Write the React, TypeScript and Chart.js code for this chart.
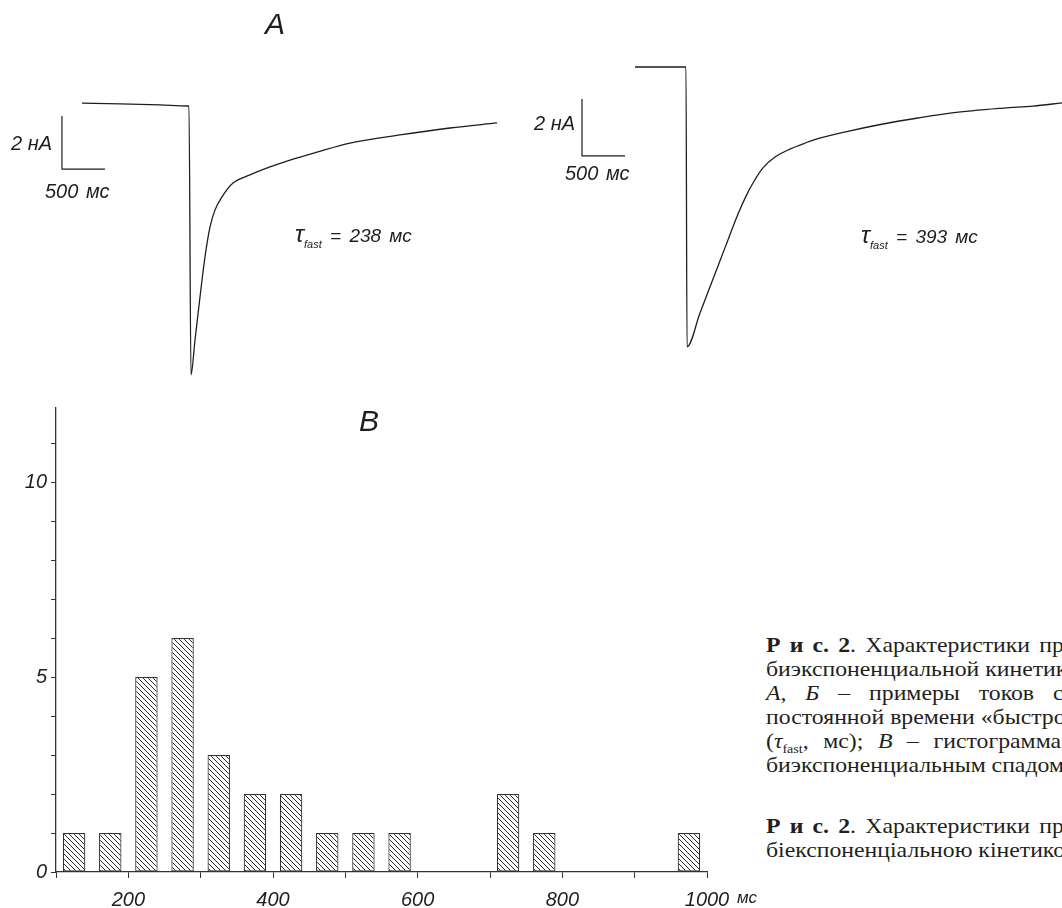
import React, { useEffect, useRef } from "react";
import { Chart, registerables } from "chart.js";

Chart.register(...registerables);

// ---------- DATA ----------
// Trace A (τfast = 238 мс): time, ms / current, nA
const traceATimeMs = [0, 442, 907, 1233, 1244, 1267, 1314, 1372, 1430, 1488, 1547, 1628, 1756, 1953, 2186, 2419, 2733, 3116, 3698, 4279, 4826];
const traceACurrentNa = [0.11, 0.08, 0.04, 0, 0, -10.15, -8.83, -7.21, -5.7, -4.57, -3.92, -3.43, -2.91, -2.6, -2.3, -2.04, -1.74, -1.4, -1.09, -0.83, -0.64];

// Trace Б (τfast = 393 мс)
const traceBTimeMs = [0, 593, 605, 756, 907, 1058, 1198, 1291, 1372, 1488, 1628, 1802, 1919, 2081, 2488, 2884, 3291, 3686, 4291, 4628, 4965];
const traceBCurrentNa = [0, 0, -9.82, -8.63, -7.44, -6.25, -5.16, -4.53, -4.07, -3.54, -3.16, -2.88, -2.74, -2.56, -2.25, -2.0, -1.79, -1.61, -1.44, -1.37, -1.26];

// Histogram В: bin centres (ms) and counts
const binCentersMs = [125, 175, 225, 275, 325, 375, 425, 475, 525, 575, 625, 675, 725, 775, 825, 875, 925, 975];
const cellCounts = [1, 1, 5, 6, 3, 2, 2, 1, 1, 1, 0, 0, 2, 1, 0, 0, 0, 1];
const xLabelValues = [200, 400, 600, 800, 1000];
const yLabelValues = [0, 5, 10];

// Scale bars
const SCALE_BAR_NA = 2;
const SCALE_BAR_MS = 500;

const captionLines = [
  "Характеристики процессов с",
  "биэкспоненциальной кинетикой инактивации.",
  "примеры токов с различной",
  "постоянной времени «быстрого» спада",
  "гистограмма распределения",
  "биэкспоненциальным спадом.",
  "Характеристики процесів з",
  "біекспоненціальною кінетикою.",
];

// ---------- STYLE ----------
const SANS = "'Liberation Sans', Arial, sans-serif";
const SERIF = "'Liberation Serif', 'Times New Roman', serif";
const INK = "#1e1e1e";
const AXIS = "#333";

function scaleBarPlugin(anchorT: number, anchorI: number) {
  return {
    id: "scaleBar",
    afterDatasetsDraw(chart: any) {
      const { ctx, scales } = chart;
      const x0 = scales.x.getPixelForValue(anchorT);
      const x1 = scales.x.getPixelForValue(anchorT + SCALE_BAR_MS);
      const y0 = scales.y.getPixelForValue(anchorI);
      const y1 = scales.y.getPixelForValue(anchorI - SCALE_BAR_NA);
      ctx.save();
      ctx.strokeStyle = INK;
      ctx.lineWidth = 1.2;
      ctx.beginPath();
      ctx.moveTo(x0, y0);
      ctx.lineTo(x0, y1);
      ctx.lineTo(x1, y1);
      ctx.stroke();
      ctx.restore();
    },
  };
}

function TraceChart(props: {
  times: number[];
  values: number[];
  xMin: number;
  xMax: number;
  yMin: number;
  yMax: number;
  barT: number;
  barI: number;
  left: number;
  top: number;
  width: number;
  height: number;
}) {
  const ref = useRef<HTMLCanvasElement | null>(null);
  useEffect(() => {
    if (!ref.current) return;
    const chart = new Chart(ref.current, {
      type: "line",
      data: {
        datasets: [
          {
            data: props.times.map((t, i) => ({ x: t, y: props.values[i] })),
            borderColor: INK,
            borderWidth: 1.3,
            pointRadius: 0,
            cubicInterpolationMode: "monotone",
            fill: false,
          },
        ],
      },
      options: {
        responsive: false,
        animation: false,
        devicePixelRatio: 1,
        layout: { padding: 0 },
        plugins: { legend: { display: false }, tooltip: { enabled: false } },
        scales: {
          x: { type: "linear", min: props.xMin, max: props.xMax, display: false },
          y: { type: "linear", min: props.yMin, max: props.yMax, display: false },
        },
      },
      plugins: [scaleBarPlugin(props.barT, props.barI)],
    } as any);
    return () => chart.destroy();
  }, []);
  return (
    <canvas
      ref={ref}
      width={props.width}
      height={props.height}
      style={{ position: "absolute", left: props.left, top: props.top, width: props.width, height: props.height }}
    />
  );
}

function Histogram() {
  const ref = useRef<HTMLCanvasElement | null>(null);
  useEffect(() => {
    if (!ref.current) return;
    const tile = document.createElement("canvas");
    tile.width = 5;
    tile.height = 5;
    const tctx = tile.getContext("2d")!;
    tctx.fillStyle = "#fff";
    tctx.fillRect(0, 0, 5, 5);
    tctx.strokeStyle = "#2a2a2a";
    tctx.lineWidth = 1;
    tctx.beginPath();
    for (const k of [-5, 0, 5]) {
      tctx.moveTo(k, 0);
      tctx.lineTo(k + 5, 5);
    }
    tctx.stroke();
    const pattern = ref.current.getContext("2d")!.createPattern(tile, "repeat");

    const tickFont = { family: SANS, style: "italic" as const, size: 20 };
    const chart = new Chart(ref.current, {
      type: "bar",
      data: {
        datasets: [
          {
            data: binCentersMs.map((x, i) => ({ x, y: cellCounts[i] > 0 ? cellCounts[i] : null })),
            backgroundColor: pattern as any,
            borderColor: AXIS,
            borderWidth: 1.2,
            borderSkipped: false,
            categoryPercentage: 1,
            barPercentage: 0.62,
          },
        ],
      },
      options: {
        responsive: false,
        animation: false,
        devicePixelRatio: 1,
        layout: { padding: { left: 0, right: 53, top: 28, bottom: 0 } },
        plugins: { legend: { display: false }, tooltip: { enabled: false } },
        scales: {
          x: {
            type: "linear",
            min: 100,
            max: 1000,
            offset: false,
            afterFit: (s: any) => {
              s.height = 36;
            },
            border: { display: true, color: AXIS, width: 1.3 },
            grid: { display: true, drawOnChartArea: false, drawTicks: true, tickLength: 6, color: AXIS, lineWidth: 1, offset: false },
            ticks: {
              stepSize: 100,
              autoSkip: false,
              maxRotation: 0,
              padding: 10,
              color: INK,
              font: tickFont,
              callback: (v: any) => (xLabelValues.includes(Number(v)) ? String(v) : ""),
            },
          },
          y: {
            type: "linear",
            min: 0,
            max: 11.9,
            afterFit: (s: any) => {
              s.width = 56;
            },
            border: { display: true, color: AXIS, width: 1.3 },
            grid: { display: true, drawOnChartArea: false, drawTicks: true, tickLength: 5, color: AXIS, lineWidth: 1 },
            ticks: {
              stepSize: 1,
              includeBounds: false,
              autoSkip: false,
              padding: 4,
              color: INK,
              font: tickFont,
              callback: (v: any) => (yLabelValues.includes(Number(v)) ? String(v) : ""),
            },
          },
        },
      },
    } as any);
    return () => chart.destroy();
  }, []);
  return <canvas ref={ref} width={760} height={528} style={{ position: "absolute", left: 0, top: 380, width: 760, height: 528 }} />;
}

function Label(props: { x: number; y: number; size: number; align?: "left" | "center" | "right"; children: any; family?: string; italic?: boolean; wordSpacing?: number }) {
  const tx = props.align === "left" ? "0" : props.align === "right" ? "-100%" : "-50%";
  return (
    <div
      style={{
        position: "absolute",
        left: props.x,
        top: props.y,
        transform: `translate(${tx}, -50%)`,
        fontSize: props.size,
        lineHeight: 1,
        fontFamily: props.family || SANS,
        fontStyle: props.italic === false ? "normal" : "italic",
        whiteSpace: "nowrap",
        color: INK,
        wordSpacing: props.wordSpacing || 0,
      }}
    >
      {props.children}
    </div>
  );
}

function Tau(props: { x: number; y: number; value: string }) {
  return (
    <Label x={props.x} y={props.y} size={19} align="left" wordSpacing={3}>
      <span style={{ fontSize: 24 }}>τ</span>
      <span style={{ fontSize: 11, position: "relative", top: 6 }}>fast</span>
      <span> = {props.value} мс</span>
    </Label>
  );
}

function CaptionLine(props: { y: number; children: any; wordSpacing?: number }) {
  return (
    <div
      style={{
        position: "absolute",
        left: 766,
        top: props.y,
        transform: "translateY(-50%) scaleX(1.08)",
        transformOrigin: "left center",
        fontFamily: SERIF,
        fontSize: 22,
        lineHeight: 1,
        whiteSpace: "nowrap",
        color: "#231f20",
        wordSpacing: props.wordSpacing || 0,
      }}
    >
      {props.children}
    </div>
  );
}

export default function App() {
  return (
    <div style={{ position: "absolute", left: 0, top: 0, width: 1062, height: 908, overflow: "hidden", background: "#fff" }}>
      <TraceChart
        times={traceATimeMs}
        values={traceACurrentNa}
        xMin={-953.5}
        xMax={5093}
        yMin={-11.096}
        yMax={4.0}
        barT={-233}
        barI={-0.38}
        left={0}
        top={0}
        width={520}
        height={400}
      />
      <TraceChart
        times={traceBTimeMs}
        values={traceBCurrentNa}
        xMin={-1337}
        xMax={4965}
        yMin={-11.685}
        yMax={2.351}
        barT={-616}
        barI={-1.12}
        left={520}
        top={0}
        width={542}
        height={400}
      />
      <Histogram />

      <Label x={275} y={24} size={30}>А</Label>
      <Label x={52} y={143} size={20} align="right">2 нА</Label>
      <Label x={45} y={191} size={20} align="left" wordSpacing={2}>500 мс</Label>
      <Tau x={295} y={234} value="238" />

      <Label x={575} y={123} size={20} align="right">2 нА</Label>
      <Label x={565} y={173} size={20} align="left" wordSpacing={2}>500 мс</Label>
      <Tau x={861} y={235} value="393" />

      <Label x={369} y={421} size={30}>В</Label>
      <Label x={737} y={897} size={17} align="left">мс</Label>

      <CaptionLine y={645} wordSpacing={3}>
        <b>Р и с. 2</b>. {captionLines[0]}
      </CaptionLine>
      <CaptionLine y={669}>{captionLines[1]}</CaptionLine>
      <CaptionLine y={693} wordSpacing={12}>
        <i>А, Б</i> – {captionLines[2]}
      </CaptionLine>
      <CaptionLine y={717}>{captionLines[3]}</CaptionLine>
      <CaptionLine y={741} wordSpacing={8}>
        (<i>τ</i>
        <span style={{ fontSize: 13, position: "relative", top: 5 }}>fast</span>, мс); <i>В</i> – {captionLines[4]}
      </CaptionLine>
      <CaptionLine y={765}>{captionLines[5]}</CaptionLine>
      <CaptionLine y={826} wordSpacing={3}>
        <b>Р и с. 2</b>. {captionLines[6]}
      </CaptionLine>
      <CaptionLine y={850}>{captionLines[7]}</CaptionLine>
    </div>
  );
}
